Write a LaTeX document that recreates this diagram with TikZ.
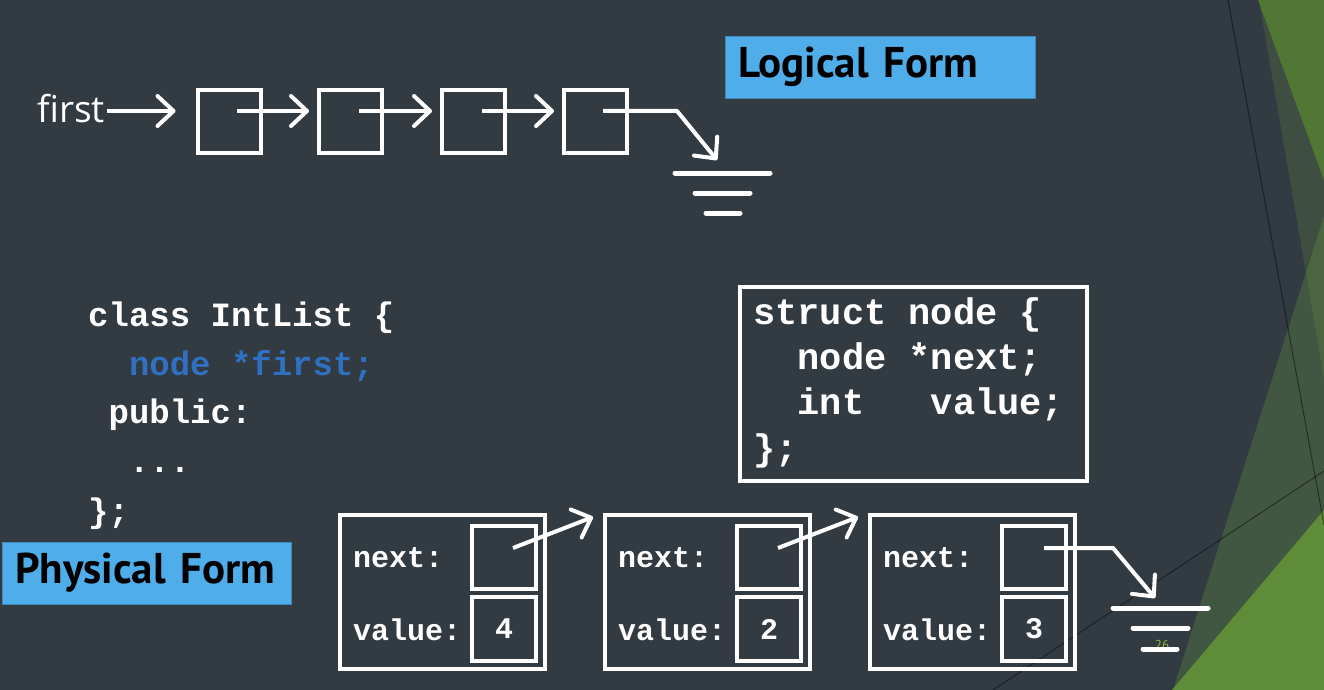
\documentclass[tikz,border=0pt]{standalone}
\usepackage{fontspec}
\setmainfont{PT Sans}
\setmonofont{Liberation Mono}
\newfontfamily\firstfont{Open Sans}
\usetikzlibrary{arrows.meta,calc}
\definecolor{bg}{HTML}{323B42}
\definecolor{labelblue}{HTML}{4FADEA}
\definecolor{codeblue}{HTML}{3070C0}
\definecolor{darkgreen}{HTML}{4A6E31}
\definecolor{midgreen}{HTML}{6A9A40}
\definecolor{brightgreen}{HTML}{5E8C38}
\definecolor{pagegreen}{HTML}{8DB93A}
\tikzset{
  wline/.style={draw=white, line width=4pt},
  lbox/.style={wline, rectangle, minimum width=63pt, minimum height=63pt, inner sep=0pt, outer sep=0pt},
  ptr/.style={white, line width=4pt, line join=round, -{Straight Barb[length=16pt,width=30pt,round]}},
  gline/.style={white, line width=5pt, line cap=round},
  formlabel/.style={fill=labelblue, draw=labelblue!80!black, line width=0.8pt, text=black, font=\fontsize{43}{46}\selectfont\bfseries, align=left, inner ysep=0pt, minimum height=62pt, inner xsep=13pt},
  code/.style={text=white, font=\fontsize{34}{40}\selectfont\ttfamily\bfseries, anchor=base west, inner sep=0pt},
  scode/.style={text=white, font=\fontsize{37}{40}\selectfont\ttfamily\bfseries, anchor=base west, inner sep=0pt},
  pcode/.style={text=white, font=\fontsize{30}{34}\selectfont\ttfamily\bfseries, anchor=west, inner sep=0pt},
  outerbox/.style={wline, rectangle, minimum width=205pt, minimum height=154pt, inner sep=0pt, outer sep=0pt},
  cellbox/.style={wline, rectangle, minimum width=64pt, minimum height=63pt, inner sep=0pt, outer sep=0pt, text=white, font=\fontsize{30}{34}\selectfont\ttfamily\bfseries},
}
\begin{document}
\begin{tikzpicture}[x=1pt,y=-1pt]
\useasboundingbox (0,0) rectangle (1324,690);
\fill[bg] (0,0) rectangle (1324,690);
% background decoration on the right
\fill[darkgreen] (1258,0) -- (1324,0) -- (1324,180) -- cycle;
\fill[midgreen, opacity=0.22] (1259,0) -- (1324,0) -- (1324,378) -- cycle;
\fill[midgreen, opacity=0.3] (1324,216) -- (1173,690) -- (1324,690) -- cycle;
\fill[brightgreen] (1324,510) -- (1172,690) -- (1324,690) -- cycle;
\draw[black, opacity=0.45, line width=1pt] (1228,0) -- (1324,525);
\draw[black, opacity=0.45, line width=1pt] (993,690) -- (1324,471);

% ---------------- Logical form ----------------
\node[formlabel, text width=284pt] (logical) at (880,67) {Logical Form};

\node[text=white, font=\firstfont\fontsize{37}{40}\selectfont, anchor=base west, inner sep=0pt] (first) at (37,123) {first};
\node[lbox] (L1) at (229,121.5) {};
\node[lbox] (L2) at (350.5,121.5) {};
\node[lbox] (L3) at (473.5,121.5) {};
\node[lbox] (L4) at (595.5,121.5) {};
\coordinate (p1) at (237,111);
\coordinate (p2) at (359,111);
\coordinate (p3) at (482,111);
\coordinate (p4) at (603,111);
\coordinate (k4) at (677,111);
\coordinate (g1) at (722,173);
\coordinate (g1tip) at (717,160);

\draw[ptr] (first.east |- p1) ++(2,0) coordinate (f0) -- ($(L1.west |- p1)+(-22,0)$);
\draw[ptr] (p1) -- ($(L2.west |- p1)+(-10,0)$);
\draw[ptr] (p2) -- ($(L3.west |- p2)+(-10,0)$);
\draw[ptr] (p3) -- ($(L4.west |- p3)+(-10,0)$);
\draw[ptr] (p4) -- (k4) -- (g1tip);
\draw[gline] ($(g1)+(-47,0)$) -- ($(g1)+(48,0)$);
\draw[gline] ($(g1)+(-27,20)$) -- ($(g1)+(28,20)$);
\draw[gline] ($(g1)+(-16,40)$) -- ($(g1)+(18,40)$);

% ---------------- class code ----------------
\node[code] (c1) at (88,326) {class IntList \{};
\node[code, text=codeblue] (c2) at (128.8,375) {node *first;};
\node[code] (c3) at (108.4,423) {public:};
\node[code] (c4) at (128.8,472) {...};
\node[code] (c5) at (88,522) {\};};

% ---------------- struct box ----------------
\node[outerbox, minimum width=347pt, minimum height=194pt] (S) at (913.5,384) {};
\node[scode] (s1) at (753,324) {struct node \{};
\node[scode] (s2) at (797.4,369) {node *next;};
\node[scode] (s3) at (797.4,414) {int\ \ \ value;};
\node[scode] (s4) at (753,460) {\};};

% ---------------- Physical form ----------------
\node[formlabel, text width=263pt] (physical) at (146.5,573) {Physical Form};

\foreach \i/\v in {0/4,1/2,2/3} {
  \pgfmathsetmacro{\dx}{265*\i}
  \node[outerbox] (P\i) at (442.5+\dx,592) {};
  \node[cellbox] (N\i) at (504+\dx,557.5) {};
  \node[cellbox, minimum height=64pt] (V\i) at (504+\dx,629) {\v};
  \node[pcode] (nx\i) at (353+\dx,558) {next:};
  \node[pcode] (vl\i) at (353+\dx,630) {value:};
  \coordinate (q\i) at (513+\dx,548);
}
\coordinate (t0) at (593,517);
\coordinate (t1) at (858,517);
\draw[ptr] (q0) -- (t0);
\draw[ptr] (q1) -- (t1);

\node[text=pagegreen, font=\fontsize{13}{14}\selectfont, inner sep=0pt] (page) at (1162,645) {26};
\coordinate (g2) at (1160,608);
\coordinate (k2) at (1113,548);
\coordinate (g2tip) at (1155,598);
\draw[ptr] ($(q2)+(1,0)$) -- (k2) -- (g2tip);
\draw[gline] ($(g2)+(-47,0)$) -- ($(g2)+(48,0)$);
\draw[gline] ($(g2)+(-27,20)$) -- ($(g2)+(28,20)$);
\draw[gline] ($(g2)+(-17,41)$) -- ($(g2)+(17,41)$);
\end{tikzpicture}
\end{document}
